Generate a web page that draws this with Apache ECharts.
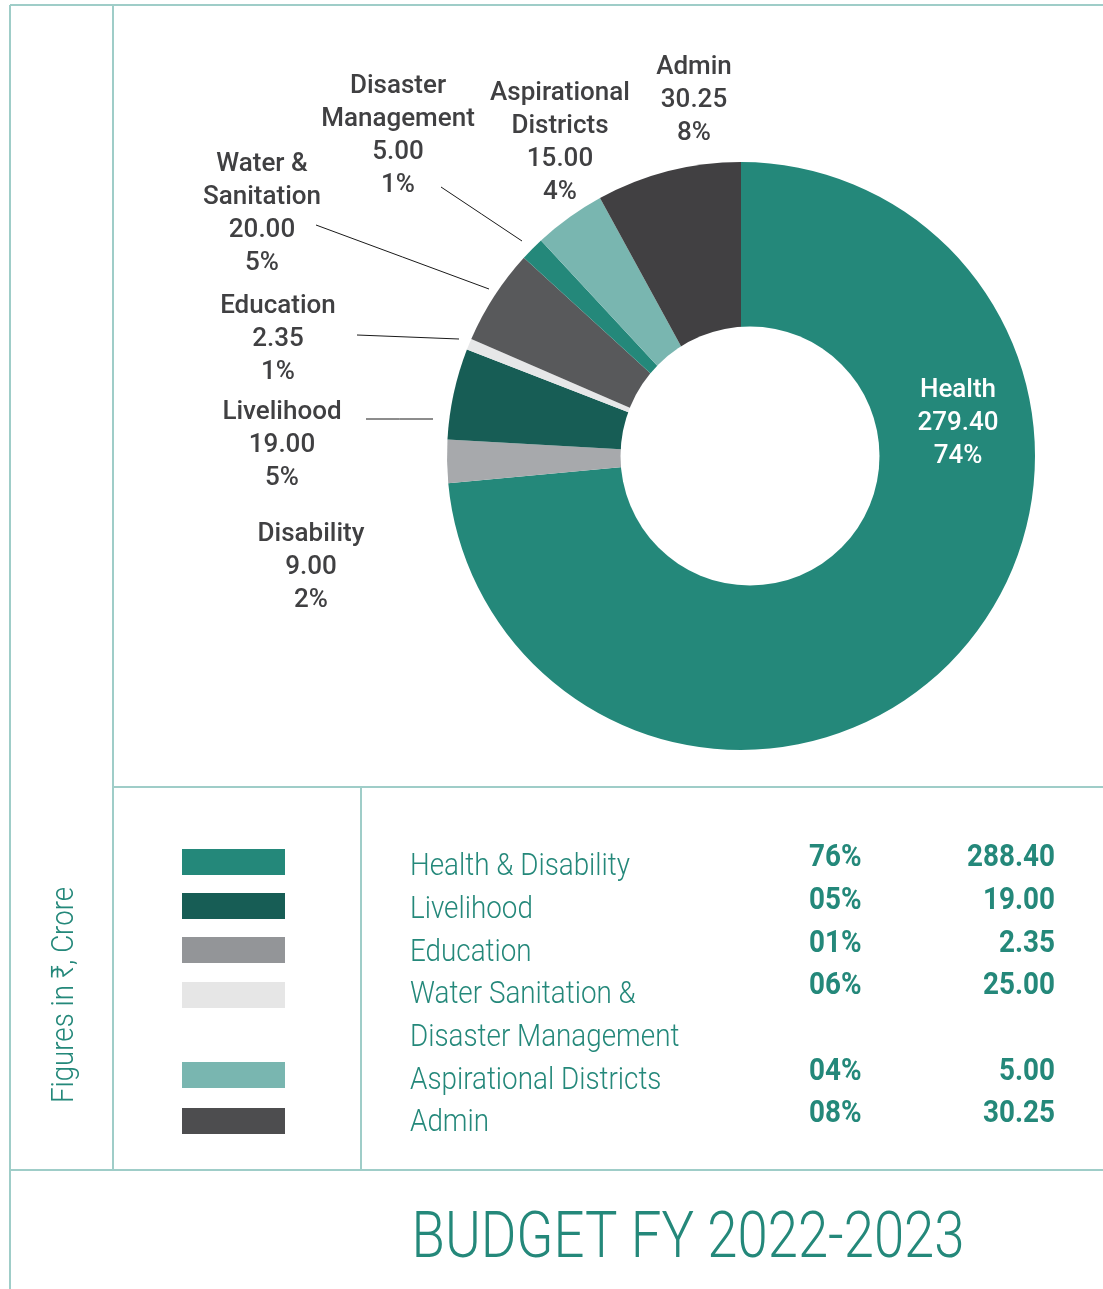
<!DOCTYPE html>
<html>
<head>
<meta charset="utf-8">
<script src="https://cdn.jsdelivr.net/npm/echarts@6/dist/echarts.min.js"></script>
<style>
  html, body { margin: 0; padding: 0; background: #fff; }
  #chart { width: 1103px; height: 1289px; }
</style>
</head>
<body>
<div id="chart"></div>
<script>
// ===== 数据 =====
const sliceNames = ['Health', 'Disability', 'Livelihood', 'Education', 'Water &\nSanitation', 'Disaster\nManagement', 'Aspirational\nDistricts', 'Admin'];
const sliceValues = [279.40, 9.00, 19.00, 2.35, 20.00, 5.00, 15.00, 30.25];

const tableNames = ['Health & Disability', 'Livelihood', 'Education', 'Water Sanitation &\nDisaster Management', 'Aspirational Districts', 'Admin'];
const tablePct = ['76%', '05%', '01%', '06%', '04%', '08%'];
const tableValues = [288.40, 19.00, 2.35, 25.00, 5.00, 30.25];

const titleText = 'BUDGET FY 2022-2023';
const unitNote = 'Figures in ₹, Crore';

// ===== 颜色 =====
const TEAL = '#24887a';
const LABEL_GREY = '#404042';
const FRAME = '#9fcdc8';
const SLICE_COLORS = ['#24887a', '#a7a9ac', '#175d55', '#e6e7e8', '#58595b', '#24887a', '#79b6b0', '#414042'];
const SWATCH_COLORS = ['#24887a', '#175d55', '#939598', '#e6e6e6', '#79b6b0', '#4d4d4f'];

// ===== 版式 =====
const PIE_CENTER = [741, 456];
const PIE_R = 294;
const HOLE_CENTER = [750, 456];
const HOLE_R = 129.5;
// 标签块中心
const LABEL_POS = [[958, 423], [311, 567], [282, 445], [278, 339], [262, 214], [398, 136], [560, 143], [694, 100]];
// 引导线（起点, 终点）
const LEADERS = {
  2: [[366, 419], [433, 419]],
  3: [[357, 335], [459, 339]],
  4: [[316, 225], [489, 289]],
  5: [[441, 187], [522, 241]],
};
const SWATCH_Y = [849, 893, 937, 982, 1062, 1108];
const NAME_Y = [867, 910, 953, 995, 1081, 1123];
const NUM_Y = [858, 901, 944, 986, 1072, 1114];

// 用 canvas 测量文字宽度，横向压缩以模拟窄体字
const measureCtx = document.createElement('canvas').getContext('2d');
const fitScale = (text, font, width) => {
  measureCtx.font = font;
  return width / measureCtx.measureText(text).width;
};

const NAME_FONT = { fontFamily: 'Roboto', fontWeight: 300, fontSize: 31 };
const NUM_FONT = { fontFamily: 'Roboto', fontWeight: 700, fontSize: 31 };
const nameScale = fitScale('Health & Disability', '300 31px Roboto', 220);
const numScale = fitScale('288.40', '700 31px Roboto', 88);
const titleScale = fitScale(titleText, '300 64px Roboto', 553);
const noteScale = fitScale(unitNote, '300 31px Roboto', 216);

const frameLine = (x1, y1, x2, y2) => ({
  type: 'line',
  silent: true,
  shape: { x1, y1, x2, y2 },
  style: { stroke: FRAME, lineWidth: 2 },
});

const graphics = [
  frameLine(10, 5, 1103, 5),
  frameLine(10, 5, 10, 1289),
  frameLine(113, 5, 113, 1170),
  frameLine(113, 787, 1103, 787),
  frameLine(361, 787, 361, 1170),
  frameLine(10, 1170, 1103, 1170),
];

SWATCH_COLORS.forEach((c, i) => {
  graphics.push({
    type: 'rect',
    silent: true,
    shape: { x: 182, y: SWATCH_Y[i], width: 103, height: 26 },
    style: { fill: c },
  });
});

tableNames.forEach((name, i) => {
  graphics.push({
    type: 'text',
    silent: true,
    x: 410,
    y: NAME_Y[i] - 21.5,
    scaleX: nameScale,
    style: { text: name, ...NAME_FONT, lineHeight: 43, fill: TEAL, align: 'left', verticalAlign: 'top' },
  });
  graphics.push({
    type: 'text',
    silent: true,
    x: 809,
    y: NUM_Y[i],
    scaleX: numScale,
    style: { text: tablePct[i], ...NUM_FONT, fill: TEAL, align: 'left', verticalAlign: 'middle' },
  });
  graphics.push({
    type: 'text',
    silent: true,
    x: 1055,
    y: NUM_Y[i],
    scaleX: numScale,
    style: { text: tableValues[i].toFixed(2), ...NUM_FONT, fill: TEAL, align: 'right', verticalAlign: 'middle' },
  });
});

graphics.push({
  type: 'text',
  silent: true,
  x: 65,
  y: 995,
  rotation: Math.PI / 2,
  scaleX: noteScale,
  style: { text: unitNote, fontFamily: 'Roboto', fontWeight: 300, fontSize: 31, fill: TEAL, align: 'center', verticalAlign: 'middle' },
});

graphics.push({
  type: 'text',
  silent: true,
  x: 688,
  y: 1241,
  scaleX: titleScale,
  style: { text: titleText, fontFamily: 'Roboto', fontWeight: 300, fontSize: 64, fill: TEAL, align: 'center', verticalAlign: 'middle' },
});

const pieData = sliceNames.map((name, i) => ({
  name,
  value: sliceValues[i],
  itemStyle: { color: SLICE_COLORS[i] },
  label: i === 0 ? { color: '#ffffff' } : undefined,
  labelLine: { show: LEADERS[i] !== undefined },
}));

const chart = echarts.init(document.getElementById('chart'), null, { renderer: 'canvas' });

chart.setOption({
  animation: false,
  backgroundColor: '#ffffff',
  graphic: graphics,
  series: [
    {
      type: 'pie',
      silent: true,
      center: PIE_CENTER,
      radius: [0, PIE_R],
      startAngle: 90,
      clockwise: true,
      avoidLabelOverlap: false,
      itemStyle: { borderWidth: 0 },
      label: {
        show: true,
        position: 'outside',
        formatter: (p) => `${p.name}\n${p.value.toFixed(2)}\n${Math.round(p.percent)}%`,
        fontFamily: 'Roboto',
        fontWeight: 500,
        fontSize: 26,
        lineHeight: 33,
        color: LABEL_GREY,
        align: 'center',
      },
      labelLine: { show: true, lineStyle: { color: '#1a1a1a', width: 1 } },
      labelLayout: (params) => {
        const [x, y] = LABEL_POS[params.dataIndex];
        const out = { x, y, align: 'center', verticalAlign: 'middle' };
        const leader = LEADERS[params.dataIndex];
        if (leader) {
          const [a, b] = leader;
          out.labelLinePoints = [a, [(a[0] + b[0]) / 2, (a[1] + b[1]) / 2], b];
        }
        return out;
      },
      data: pieData,
    },
    {
      // 中心留白（原图的孔略微右偏）
      type: 'pie',
      silent: true,
      center: HOLE_CENTER,
      radius: [0, HOLE_R],
      label: { show: false },
      labelLine: { show: false },
      itemStyle: { color: '#ffffff' },
      data: [{ name: 'hole', value: 1 }],
    },
  ],
});
</script>
</body>
</html>
